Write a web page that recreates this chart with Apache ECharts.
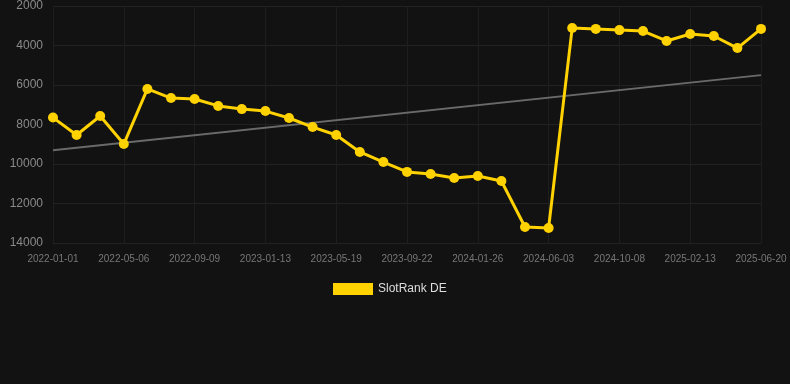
<!DOCTYPE html>
<html><head><meta charset="utf-8">
<script src="https://cdn.jsdelivr.net/npm/echarts@6/dist/echarts.min.js"></script>
<style>html,body{margin:0;padding:0;background:#121212;}#c{width:790px;height:384px;}</style>
</head><body><div id="c"></div>
<script>
const categories = ['2022-01-01','2022-02-11','2022-03-25','2022-05-06','2022-06-17','2022-07-29','2022-09-09','2022-10-21','2022-12-02','2023-01-13','2023-02-24','2023-04-07','2023-05-19','2023-06-30','2023-08-11','2023-09-22','2023-11-03','2023-12-15','2024-01-26','2024-03-08','2024-04-19','2024-06-03','2024-07-15','2024-08-26','2024-10-08','2024-11-19','2024-12-31','2025-02-13','2025-03-27','2025-05-08','2025-06-20'];
const rankDE = [7650,8530,7570,8990,6200,6660,6710,7060,7220,7320,7670,8130,8530,9390,9900,10400,10510,10710,10610,10860,13190,13240,3110,3160,3220,3270,3770,3420,3520,4130,3160];
const trendEnds = [9300,5500];
const yTicks = {min:2000,max:14000,interval:2000};

const trend = categories.map((c,i)=> i===0 ? trendEnds[0] : (i===categories.length-1 ? trendEnds[1] : null));

const chart = echarts.init(document.getElementById('c'));
chart.setOption({
  backgroundColor:'#121212',
  animation:false,
  grid:{left:53,right:29,top:6,bottom:141},
  legend:{top:278,left:328,itemWidth:40,itemHeight:12,itemGap:5,
    textStyle:{color:'#dddddd',fontSize:12,fontFamily:'Arial, Liberation Sans, sans-serif'},
    data:[{name:'SlotRank DE',icon:'rect'}]},
  xAxis:{type:'category',data:categories,boundaryGap:false,
    axisLine:{show:true,lineStyle:{color:'#222'}},
    axisTick:{show:false},
    axisLabel:{interval:2,color:'#777',fontSize:10,margin:11,fontFamily:'Arial, Liberation Sans, sans-serif'},
    splitLine:{show:true,interval:2,lineStyle:{color:'#1e1e1e'}}},
  yAxis:{type:'value',inverse:true,min:yTicks.min,max:yTicks.max,interval:yTicks.interval,
    axisLine:{show:false},axisTick:{show:false},
    axisLabel:{color:'#8a8a8a',fontSize:12,margin:10,formatter:v=>String(v),fontFamily:'Arial, Liberation Sans, sans-serif'},
    splitLine:{lineStyle:{color:'#222'}}},
  series:[
    {name:'SlotRank DE',type:'line',data:rankDE,color:'#ffd200',
     lineStyle:{width:3,color:'#ffd200'},symbol:'circle',symbolSize:10,
     itemStyle:{color:'#ffd200'},z:3},
    {name:'trend',type:'line',data:trend,connectNulls:true,symbol:'none',
     lineStyle:{width:2,color:'#6a6a6a'},z:2}
  ]
});
</script></body></html>
